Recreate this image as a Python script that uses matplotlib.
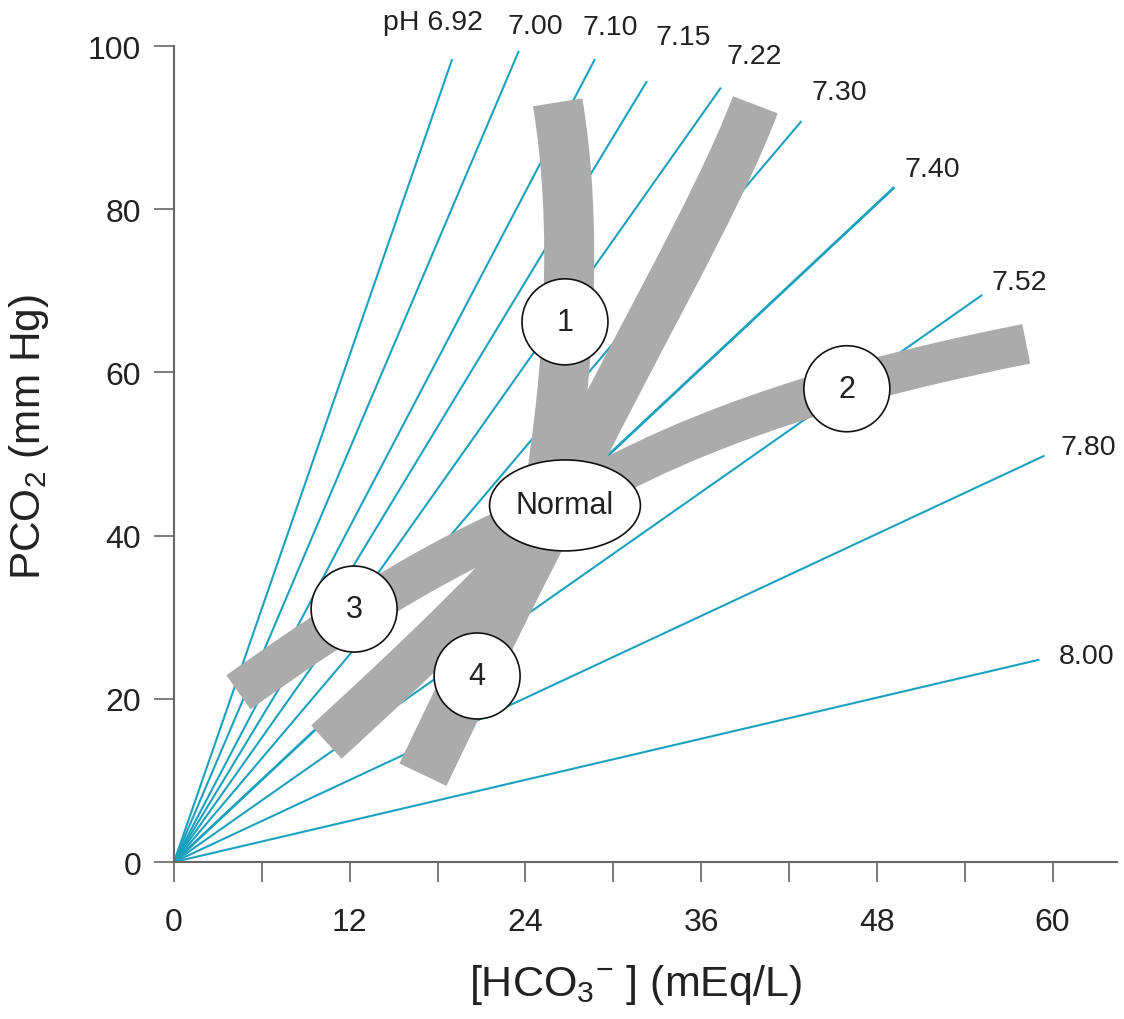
import matplotlib
matplotlib.use("Agg")
from matplotlib import pyplot as plt
from matplotlib.patches import Ellipse, PathPatch
from matplotlib.path import Path

plt.rcParams["font.family"] = ["Liberation Sans", "DejaVu Sans"]
plt.rcParams["mathtext.fontset"] = "custom"
plt.rcParams["mathtext.rm"] = "Liberation Sans"
plt.rcParams["mathtext.it"] = "Liberation Sans"

# pH isobars: (HCO3, PCO2) end point of each line drawn from the origin
ph_labels = ["6.92", "7.00", "7.10", "7.15", "7.22", "7.30", "7.40", "7.52", "7.80", "8.00"]
ph_end_hco3 = [19.0, 23.55, 28.75, 32.3, 37.35, 42.85, 49.2, 55.2, 59.45, 59.1]
ph_end_pco2 = [98.4, 99.4, 98.4, 95.7, 94.9, 90.8, 82.7, 69.5, 49.8, 24.8]
# where the pH labels sit
ph_label_x = [17.7, 24.65, 29.8, 34.8, 39.65, 45.45, 51.8, 57.7, 62.45, 62.3]
ph_label_y = [102.9, 102.4, 102.3, 101.1, 98.8, 94.4, 84.9, 71.1, 50.9, 25.2]

# grey bands: start, two control points, end (cubic curves)
band_1_x = [26.2, 27.6, 27.0, 25.5]
band_1_y = [93.1, 78.0, 60.0, 44.0]
band_up_x = [39.7, 37.0, 31.0, 26.5]
band_up_y = [92.8, 80.0, 62.0, 45.0]
band_2_x = [58.2, 47.0, 36.0, 26.7]
band_2_y = [63.5, 59.5, 54.0, 44.0]
band_3_x = [4.4, 12.0, 19.0, 26.7]
band_3_y = [20.8, 30.5, 38.5, 43.7]
band_low_x = [10.4, 17.0, 23.0, 26.5]
band_low_y = [14.7, 25.5, 36.0, 43.5]
band_4_x = [17.0, 20.0, 23.5, 26.5]
band_4_y = [10.7, 22.0, 35.0, 45.0]

# numbered markers and the Normal zone
marker_labels = ["1", "2", "3", "4"]
marker_x = [26.7, 45.95, 12.3, 20.7]
marker_y = [66.2, 58.0, 31.0, 22.8]
normal_x, normal_y = 26.7, 43.7

LINE_COLOR = "#1ba1be"
BAND_COLOR = "#ababab"
TEXT_COLOR = "#222222"
AXIS_COLOR = "#666666"

fig = plt.figure(figsize=(11.24, 10.2), dpi=100)
ax = fig.add_axes([0.1548, 0.1539, 0.839, 0.8])

for lab, x_end, y_end in zip(ph_labels, ph_end_hco3, ph_end_pco2):
    lw = 2.0 if lab == "7.40" else 1.5
    ax.plot([0, x_end], [0, y_end], color=LINE_COLOR, lw=lw, zorder=1,
            solid_capstyle="butt")

for lab, lx, ly in zip(ph_labels, ph_label_x, ph_label_y):
    txt = "pH " + lab if lab == "6.92" else lab
    ax.text(lx, ly, txt, fontsize=20.5, color=TEXT_COLOR, ha="center", va="center",
            clip_on=False, zorder=5)

bands = [
    (band_1_x, band_1_y, 36),
    (band_up_x, band_up_y, 34.5),
    (band_2_x, band_2_y, 29),
    (band_3_x, band_3_y, 30),
    (band_low_x, band_low_y, 32.5),
    (band_4_x, band_4_y, 37.5),
]
codes = [Path.MOVETO, Path.CURVE4, Path.CURVE4, Path.CURVE4]
for bx, by, width in bands:
    path = Path(list(zip(bx, by)), codes)
    ax.add_patch(PathPatch(path, fill=False, edgecolor=BAND_COLOR, lw=width,
                           capstyle="butt", joinstyle="round", zorder=2))

for lab, mx, my in zip(marker_labels, marker_x, marker_y):
    ax.add_patch(Ellipse((mx, my), 5.87, 10.54, facecolor="white",
                         edgecolor="#111111", lw=1.2, zorder=3))
    ax.text(mx, my, lab, fontsize=22, color=TEXT_COLOR, ha="center", va="center",
            zorder=4)

ax.add_patch(Ellipse((normal_x, normal_y), 10.3, 11.15, facecolor="white",
                     edgecolor="#111111", lw=1.2, zorder=3))
ax.text(normal_x, normal_y, "Normal", fontsize=22, color=TEXT_COLOR, ha="center",
        va="center", zorder=4)

ax.set_xlim(0, 64.4)
ax.set_ylim(0, 100)
ax.set_xticks([0, 12, 24, 36, 48, 60])
ax.set_xticks([6, 18, 30, 42, 54], minor=True)
ax.set_yticks([0, 20, 40, 60, 80, 100])

for side in ["top", "right"]:
    ax.spines[side].set_visible(False)
for side in ["left", "bottom"]:
    ax.spines[side].set_color(AXIS_COLOR)
    ax.spines[side].set_linewidth(1.5)

ax.tick_params(axis="both", which="both", direction="out", length=14.5, width=1.2,
               color=AXIS_COLOR, labelsize=23, labelcolor=TEXT_COLOR)
ax.tick_params(axis="y", pad=9)
ax.tick_params(axis="x", pad=18)

ax.set_ylabel(r"PCO$\mathregular{_2}$ (mm Hg)", fontsize=30.5, color=TEXT_COLOR)
ax.yaxis.set_label_coords(-0.13, 0.522)
ax.set_xlabel(r"[HCO$\mathregular{_3}$$\mathregular{^{-}}$ ] (mEq/L)", fontsize=31,
              color=TEXT_COLOR)
ax.xaxis.set_label_coords(0.489, -0.122)

fig.savefig("out.png", dpi=100)
